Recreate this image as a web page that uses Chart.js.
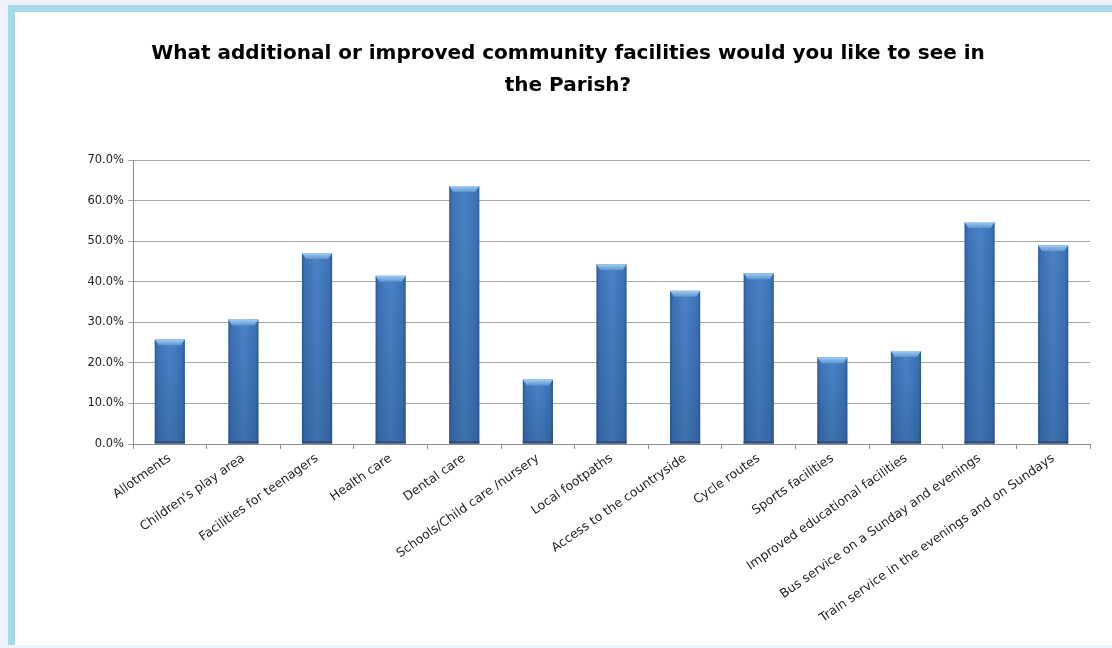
<!DOCTYPE html>
<html>
<head>
<meta charset="utf-8">
<script src="https://cdn.jsdelivr.net/npm/chart.js@4"></script>
<style>
  html, body { margin: 0; padding: 0; width: 1112px; height: 648px; overflow: hidden; background: #edf1f9; }
  #frame { position: absolute; left: 8px; top: 5px; width: 1110px; height: 633px; border-top: 7px solid #a8d9e7; border-left: 7px solid #a8d9e7; background: #ffffff; }
  #wrap { position: absolute; left: 15px; top: 12px; width: 1097px; height: 633px; }
</style>
</head>
<body>
<div id="frame"></div>
<div id="wrap"><canvas id="c" width="1097" height="633"></canvas></div>
<script>
const titleLines = ['What additional or improved community facilities would you like to see in', 'the Parish?'];
const categories = [
  'Allotments',
  "Children's play area",
  'Facilities for teenagers',
  'Health care',
  'Dental care',
  'Schools/Child care /nursery',
  'Local footpaths',
  'Access to the countryside',
  'Cycle routes',
  'Sports facilities',
  'Improved educational facilities',
  'Bus service on a Sunday and evenings',
  'Train service in the evenings and on Sundays'
];
const values = [25.8, 30.7, 47.1, 41.5, 63.6, 15.9, 44.3, 37.8, 42.1, 21.4, 22.9, 54.7, 49.0];
const yMin = 0, yMax = 70, yStep = 10;

const BAR_RATIO = 0.41;

function barFill(ctx) {
  const chart = ctx.chart;
  const xs = chart.scales.x;
  if (!xs || !chart.chartArea) return '#4a80c2';
  const cx = xs.getPixelForValue(ctx.dataIndex);
  const w = (xs.width / categories.length) * BAR_RATIO;
  const g = chart.ctx.createLinearGradient(cx - w / 2, 0, cx + w / 2, 0);
  g.addColorStop(0, '#2d5b97');
  g.addColorStop(0.1, '#3d73b6');
  g.addColorStop(0.5, '#4a83c6');
  g.addColorStop(0.9, '#3d73b6');
  g.addColorStop(1, '#2d5b97');
  return g;
}

const bevelPlugin = {
  id: 'bevel',
  afterDatasetsDraw(chart) {
    const c = chart.ctx;
    const meta = chart.getDatasetMeta(0);
    meta.data.forEach(bar => {
      const { x, y, base, width } = bar.getProps(['x', 'y', 'base', 'width'], true);
      const l = x - width / 2, r = x + width / 2;
      c.save();
      const vg = c.createLinearGradient(0, y, 0, base);
      vg.addColorStop(0, 'rgba(10,30,70,0)');
      vg.addColorStop(1, 'rgba(10,30,70,0.18)');
      c.fillStyle = vg;
      c.fillRect(l, y, width, base - y);
      const bh = 6;
      const tg = c.createLinearGradient(0, y, 0, y + bh);
      tg.addColorStop(0, '#a4cdf2');
      tg.addColorStop(1, '#5d94d2');
      c.fillStyle = tg;
      c.beginPath();
      c.moveTo(l, y);
      c.lineTo(r, y);
      c.lineTo(r - 4, y + bh);
      c.lineTo(l + 4, y + bh);
      c.closePath();
      c.fill();
      c.fillStyle = '#2b4a72';
      c.fillRect(l, base - 2, width, 2);
      c.restore();
    });
  }
};

new Chart(document.getElementById('c'), {
  type: 'bar',
  data: {
    labels: categories,
    datasets: [{
      data: values,
      backgroundColor: barFill,
      borderWidth: 0,
      categoryPercentage: 1,
      barPercentage: BAR_RATIO
    }]
  },
  options: {
    responsive: false,
    animation: false,
    devicePixelRatio: 1,
    layout: { padding: { left: 31, right: 22, top: 26, bottom: 0 } },
    plugins: {
      legend: { display: false },
      tooltip: { enabled: false },
      title: {
        display: true,
        text: titleLines,
        color: '#000000',
        font: { family: 'DejaVu Sans', size: 20, weight: 'bold', lineHeight: 1.6 },
        padding: { top: 0, bottom: 58 }
      }
    },
    scales: {
      x: {
        grid: {
          display: true,
          drawOnChartArea: false,
          drawTicks: true,
          tickLength: 5,
          color: '#8c8c8c',
          offset: true
        },
        border: { display: true, color: '#8c8c8c', width: 1 },
        ticks: {
          autoSkip: false,
          minRotation: 35,
          maxRotation: 35,
          padding: 2,
          color: '#222222',
          font: { family: 'DejaVu Sans', size: 12.5 }
        },
        afterFit(scale) { scale.height = 201; }
      },
      y: {
        min: yMin,
        max: yMax,
        ticks: {
          stepSize: yStep,
          padding: 4,
          color: '#222222',
          font: { family: 'DejaVu Sans', size: 11.5 },
          callback: v => v.toFixed(1) + '%'
        },
        grid: {
          color: '#a6a6a6',
          lineWidth: 1,
          drawTicks: true,
          tickLength: 5
        },
        border: { display: true, color: '#8c8c8c', width: 1 },
        afterFit(scale) { scale.width = 87; }
      }
    }
  },
  plugins: [bevelPlugin]
});
</script>
</body>
</html>
